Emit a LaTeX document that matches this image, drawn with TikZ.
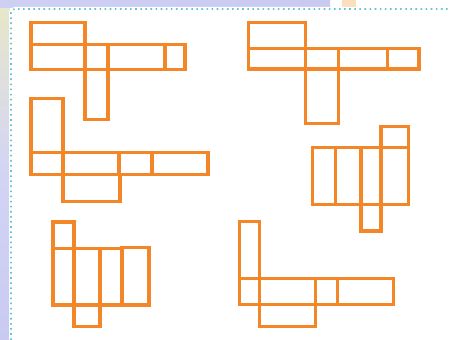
\documentclass[tikz,border=0pt]{standalone}
\usepackage{tikz}
\usetikzlibrary{calc}
\usepackage{xcolor}
\definecolor{netorange}{RGB}{243,134,38}
\definecolor{lavender}{RGB}{200,202,242}
\definecolor{paleyellow}{RGB}{232,232,200}
\definecolor{dotcyan}{RGB}{100,198,210}
\definecolor{peach}{RGB}{250,222,190}

\begin{document}
\begin{tikzpicture}[x=0.02cm, y=-0.02cm, net/.style={draw=netorange, line width=1.9pt, line join=miter}]
  \useasboundingbox (0,0) rectangle (449,340);
  % Background
  \fill[white] (0,0) rectangle (449,340);
  \shade[top color=paleyellow, bottom color=lavender, middle color=lavender!80] (0,0) rectangle (10,340);
  \shade[left color=lavender!90, right color=lavender] (0,0) rectangle (330,8);
  \fill[peach] (342,0) rectangle (356,7);
  \fill[white, rounded corners=3pt] (9,7) rectangle (460,350);
  \draw[dotcyan, dotted, line width=0.9pt, rounded corners=2pt] (11,345) -- (11,9) -- (449,9);

  % Net 1 (top left)
  \draw[net] (31,22.7) rectangle (85,44.3);
  \draw[net] (31,44.3) rectangle (85,69.7);
  \draw[net] (85,44.3) rectangle (108,69.7);
  \draw[net] (108,44.3) rectangle (165,69.7);
  \draw[net] (165,44.3) rectangle (185,69.7);
  \draw[net] (85,69.7) rectangle (108,119.3);

  % Net 2 (top right)
  \draw[net] (248.3,22.3) rectangle (305.3,48.3);
  \draw[net] (248.3,48.3) rectangle (305.3,69);
  \draw[net] (305.3,48.3) rectangle (338.3,69);
  \draw[net] (338.3,48.3) rectangle (387.7,69);
  \draw[net] (387.7,48.3) rectangle (419,69);
  \draw[net] (305.3,69) rectangle (338.3,123.7);

  % Net 3 (middle left)
  \draw[net] (31,98.3) rectangle (63,152.3);
  \draw[net] (31,152.3) rectangle (63,174.7);
  \draw[net] (63,152.3) rectangle (119,174.7);
  \draw[net] (119,152.3) rectangle (152,174.7);
  \draw[net] (152,152.3) rectangle (208,174.7);
  \draw[net] (63,174.7) rectangle (120,201.7);

  % Net 4 (middle right)
  \draw[net] (381,126.7) rectangle (408.3,147.7);
  \draw[net] (312.7,147.7) rectangle (335.3,204.3);
  \draw[net] (335.3,147.7) rectangle (361,204.3);
  \draw[net] (361,147.7) rectangle (381,204.3);
  \draw[net] (381,147.7) rectangle (408.3,204.3);
  \draw[net] (361,204.3) rectangle (381,231);

  % Net 5 (bottom left)
  \draw[net] (53,222) rectangle (74,248.7);
  \draw[net] (53,248.7) rectangle (74,305);
  \draw[net] (74,248.7) rectangle (100,305);
  \draw[net] (100,248.7) rectangle (122,305);
  \draw[net] (122,247.7) rectangle (149,305);
  \draw[net] (74,305) rectangle (100,326.7);

  % Net 6 (bottom right)
  \draw[net] (239.3,221.7) rectangle (259.3,278.7);
  \draw[net] (239.3,278.7) rectangle (259.3,304.3);
  \draw[net] (259.3,278.7) rectangle (315.3,304.3);
  \draw[net] (315.3,278.7) rectangle (337.7,304.3);
  \draw[net] (337.7,278.7) rectangle (393.3,304.3);
  \draw[net] (259.3,304.3) rectangle (315.3,326.7);
\end{tikzpicture}
\end{document}
